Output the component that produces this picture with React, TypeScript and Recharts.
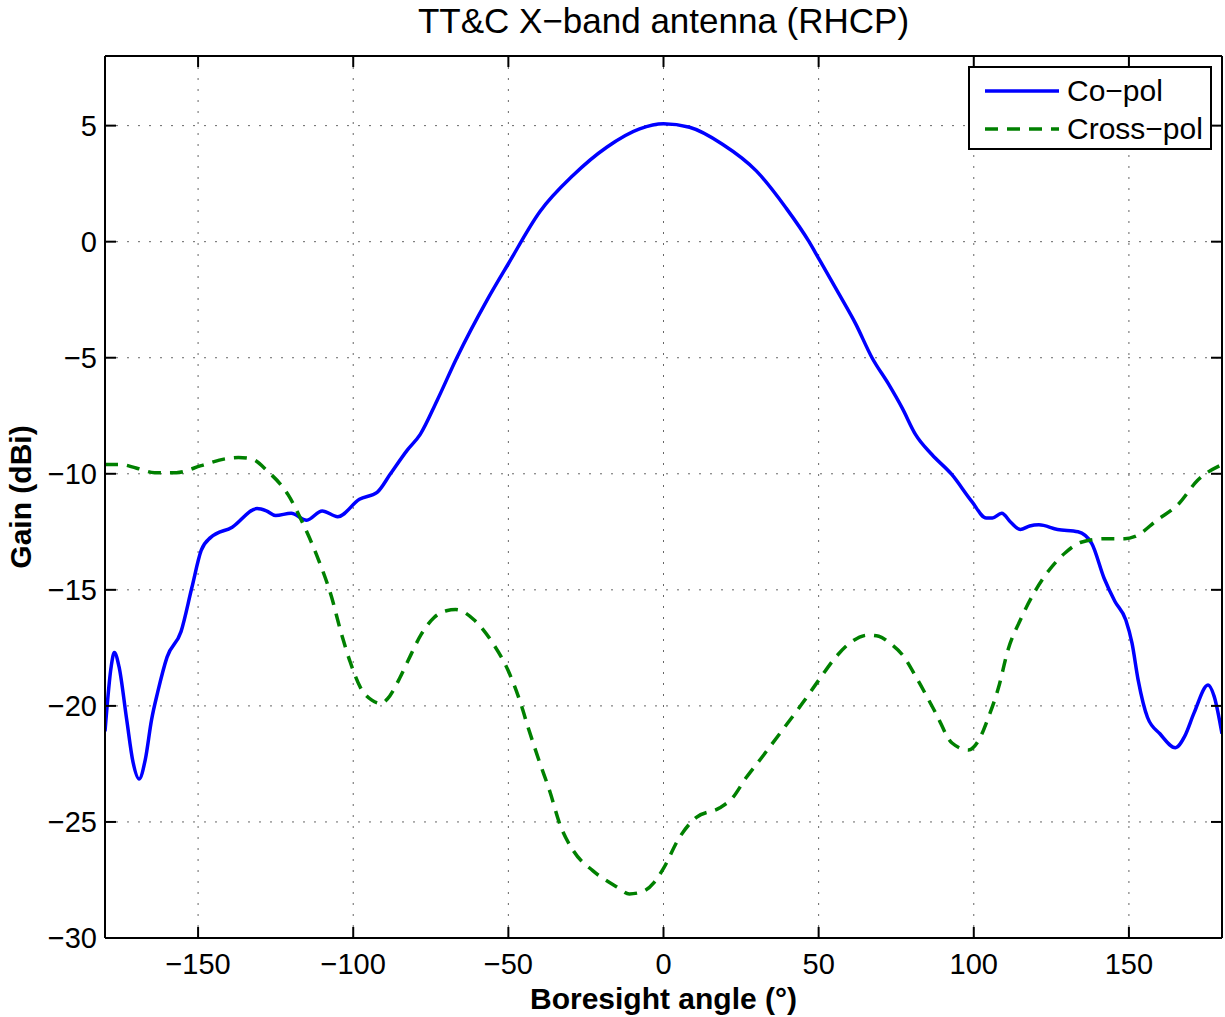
import React from 'react';
import { LineChart, Line, XAxis, YAxis, CartesianGrid, Legend, Label } from 'recharts';

const coAngle = [-180, -178, -177, -175.5, -173, -171, -169, -167, -165, -163, -160, -155.5, -152, -149, -146, -139, -131, -128, -125, -120, -115, -110, -105, -98, -92.3, -88, -82.7, -78.4, -73, -66.6, -57, -50, -39.8, -29.2, -18.3, -7.7, 0, 8.4, 19, 29.9, 39.5, 46.9, 50, 56.5, 61.9, 67.2, 72.6, 76.9, 81.2, 86.5, 92.9, 99.4, 104, 106, 109, 112, 115, 118, 121, 127, 133.6, 138, 142, 145.5, 149, 151, 153, 156, 160, 165, 168, 171, 175.5, 177.5, 180];
const coGain = [-21.1, -18.3, -17.7, -18.3, -20.6, -22.4, -23.15, -22.3, -20.6, -19.4, -17.9, -16.8, -14.9, -13.3, -12.75, -12.3, -11.5, -11.6, -11.8, -11.7, -12.0, -11.6, -11.85, -11.1, -10.8, -10.0, -9.0, -8.3, -6.85, -5.0, -2.55, -0.95, 1.3, 2.85, 4.07, 4.86, 5.08, 4.93, 4.2, 3.05, 1.45, 0, -0.72, -2.24, -3.53, -5.0, -6.15, -7.16, -8.3, -9.17, -10.03, -11.2, -11.9, -11.9, -11.7, -12.1, -12.4, -12.25, -12.2, -12.4, -12.5, -13.0, -14.5, -15.5, -16.3, -17.3, -18.9, -20.5, -21.2, -21.8, -21.3, -20.3, -19.1, -19.6, -21.2];

const crossAngle = [-180, -175, -170, -164, -157, -149, -141, -137, -133, -127.5, -121, -116, -111.5, -107, -104, -101, -97.7, -94, -91, -89, -85, -82.5, -78, -74, -70, -67, -61, -55, -50, -46, -43.7, -40, -36.6, -33.4, -29, -22.8, -15, -11, -6.7, -3, 0, 5, 10.6, 18, 22, 26.6, 31.8, 38, 44.7, 50, 55.5, 60, 66, 69.4, 73, 77, 82, 87.7, 93, 98.3, 101.5, 104.7, 108, 111, 115, 120, 124, 129.5, 134.6, 142, 148.7, 152, 159, 166, 172, 180];
const crossGain = [-9.6, -9.6, -9.75, -9.95, -9.95, -9.65, -9.35, -9.3, -9.35, -9.9, -10.9, -12.2, -13.6, -15.3, -16.8, -18.1, -19.2, -19.75, -19.9, -19.7, -18.8, -18.1, -16.9, -16.2, -15.9, -15.85, -16.3, -17.3, -18.5, -19.9, -20.9, -22.4, -23.7, -25.1, -26.25, -27.1, -27.8, -28.1, -28.0, -27.6, -27.0, -25.7, -24.8, -24.4, -24.0, -23.1, -22.2, -21.1, -19.9, -18.9, -17.9, -17.3, -16.95, -17.0, -17.3, -17.8, -18.9, -20.3, -21.6, -21.9, -21.5, -20.5, -19.2, -17.6, -16.3, -15.0, -14.2, -13.4, -12.95, -12.8, -12.8, -12.7, -12.0, -11.3, -10.3, -9.6];

const xTicks = [-150, -100, -50, 0, 50, 100, 150];
const yTicks = [-30, -25, -20, -15, -10, -5, 0, 5];

const FONT = '"Liberation Sans", Arial, Helvetica, sans-serif';
const BLUE = '#0000ff';
const GREEN = '#008000';

const coData = coAngle.map((a, i) => ({ angle: a, gain: coGain[i] }));
const crossData = crossAngle.map((a, i) => ({ angle: a, gain: crossGain[i] }));

const minus = (v: number) => String(v).replace('-', '\u2212');
const blank = () => '';

const tickStyle = { fontSize: 29, fill: '#000', fontFamily: FONT };

function LegendBox() {
  const rows = [
    { name: 'Co\u2212pol', color: BLUE, dash: undefined },
    { name: 'Cross\u2212pol', color: GREEN, dash: '13 9' },
  ];
  return (
    <div style={{ width: 244, height: 84, border: '2px solid #000', background: '#fff', boxSizing: 'border-box', paddingTop: 4, fontFamily: FONT }}>
      {rows.map(r => (
        <div key={r.name} style={{ display: 'flex', alignItems: 'center', height: 38 }}>
          <svg width={97} height={10}>
            <line x1={15} x2={89} y1={5} y2={5} stroke={r.color} strokeWidth={3.5} strokeDasharray={r.dash} />
          </svg>
          <span style={{ fontSize: 30, color: '#000', lineHeight: '38px' }}>{r.name}</span>
        </div>
      ))}
    </div>
  );
}

export default function App() {
  return (
    <div style={{ position: 'absolute', left: 0, top: 0, background: '#fff' }}>
      <LineChart width={1225} height={1017} margin={{ top: 0, right: 0, bottom: 0, left: 0 }}>
        <CartesianGrid xAxisId="bottom" yAxisId="left" stroke="#666" strokeDasharray="2 9" />
        <XAxis xAxisId="bottom" type="number" dataKey="angle" domain={[-180, 180]} ticks={xTicks} allowDataOverflow
          height={79} tickSize={-11} tickMargin={26} tickFormatter={minus} tick={tickStyle}
          axisLine={{ stroke: '#000', strokeWidth: 2 }} tickLine={{ stroke: '#000', strokeWidth: 2 }}>
          <Label content={({ viewBox }: any) => (
            <text x={viewBox.x + viewBox.width / 2} y={viewBox.y + 71} textAnchor="middle" fontFamily={FONT} fontSize={30} fontWeight="bold" fill="#000">
              Boresight angle (°)
            </text>
          )} />
        </XAxis>
        <XAxis xAxisId="top" orientation="top" type="number" dataKey="angle" domain={[-180, 180]} ticks={xTicks} allowDataOverflow
          height={56} tickSize={-11} tickFormatter={blank}
          axisLine={{ stroke: '#000', strokeWidth: 2 }} tickLine={{ stroke: '#000', strokeWidth: 2 }}>
          <Label content={({ viewBox }: any) => (
            <text x={viewBox.x + viewBox.width / 2} y={33} textAnchor="middle" fontFamily={FONT} fontSize={35} fill="#000">
              TT&amp;C X{'\u2212'}band antenna (RHCP)
            </text>
          )} />
        </XAxis>
        <YAxis yAxisId="left" type="number" domain={[-30, 8]} ticks={yTicks} allowDataOverflow
          width={105} tickSize={-11} tickMargin={19} tickFormatter={minus} tick={tickStyle}
          axisLine={{ stroke: '#000', strokeWidth: 2 }} tickLine={{ stroke: '#000', strokeWidth: 2 }}>
          <Label content={({ viewBox }: any) => {
            const cx = 20;
            const cy = viewBox.y + viewBox.height / 2;
            return (
              <text x={cx} y={cy} transform={`rotate(-90, ${cx}, ${cy})`} textAnchor="middle" dominantBaseline="central"
                fontFamily={FONT} fontSize={30} fontWeight="bold" fill="#000">
                Gain (dBi)
              </text>
            );
          }} />
        </YAxis>
        <YAxis yAxisId="right" orientation="right" type="number" domain={[-30, 8]} ticks={yTicks} allowDataOverflow
          width={3} tickSize={-11} tickFormatter={blank}
          axisLine={{ stroke: '#000', strokeWidth: 2 }} tickLine={{ stroke: '#000', strokeWidth: 2 }} />
        <Legend layout="horizontal" align="center" verticalAlign="middle" content={() => <LegendBox />}
          wrapperStyle={{ position: 'absolute', left: 968, top: 66, width: 244, height: 84 }} />
        <Line xAxisId="bottom" yAxisId="left" data={coData} dataKey="gain" name="Co-pol" type="monotone"
          stroke={BLUE} strokeWidth={3.5} dot={false} activeDot={false} isAnimationActive={false} />
        <Line xAxisId="bottom" yAxisId="left" data={crossData} dataKey="gain" name="Cross-pol" type="monotone"
          stroke={GREEN} strokeWidth={3.5} strokeDasharray="13 9" dot={false} activeDot={false} isAnimationActive={false} />
      </LineChart>
    </div>
  );
}
